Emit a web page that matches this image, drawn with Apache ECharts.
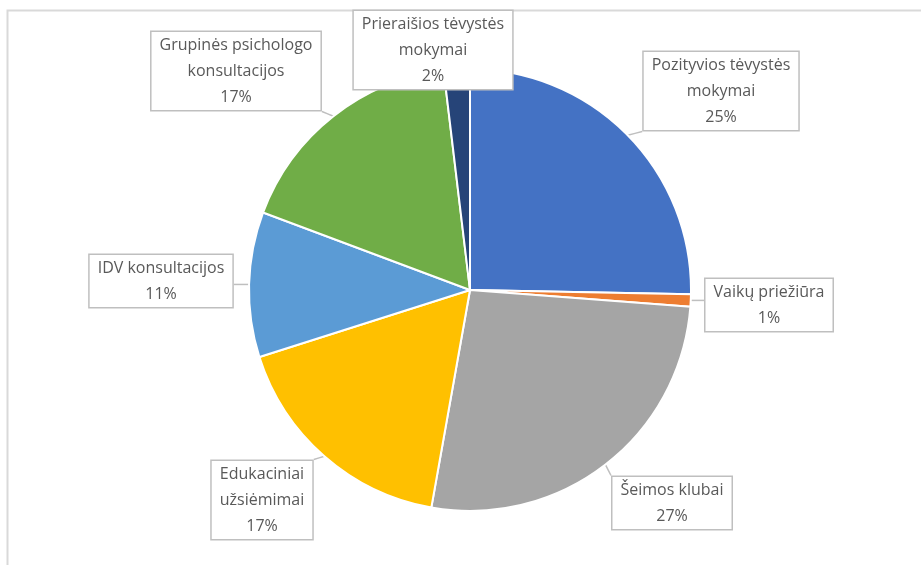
<!DOCTYPE html>
<html>
<head>
    <meta charset="UTF-8">
    <title>Paslaugos</title>
    <script src="https://cdn.jsdelivr.net/npm/echarts@6/dist/echarts.min.js"></script>
    <style>
        html, body { margin: 0; padding: 0; background: #fff; }
        #chart { width: 921px; height: 565px; }
    </style>
</head>
<body>
    <div id="chart"></div>
    <script>
        const names = [
            'Pozityvios tėvystės\nmokymai',
            'Vaikų priežiūra',
            'Šeimos klubai',
            'Edukaciniai\nužsiėmimai',
            'IDV konsultacijos',
            'Grupinės psichologo\nkonsultacijos',
            'Prieraišios tėvystės\nmokymai'
        ];
        const values = [25.3, 0.9, 26.6, 17.3, 10.6, 17.4, 1.9];
        const colors = ['#4472C4', '#ED7D31', '#A5A5A5', '#FFC000', '#5B9BD5', '#70AD47', '#264478'];

        // callout box centres (layout only)
        const labelPos = [
            [721, 91], [769, 305], [672, 503], [262, 500], [161, 281], [236, 71], [433, 50]
        ];

        const chart = echarts.init(document.getElementById('chart'));

        function nearestOnRect(pt, r) {
            const x = Math.max(r.x, Math.min(pt[0], r.x + r.width));
            const y = Math.max(r.y, Math.min(pt[1], r.y + r.height));
            return [x, y];
        }

        const option = {
            animation: false,
            graphic: [{
                type: 'rect',
                shape: { x: 7.5, y: 10.5, width: 960, height: 620 },
                style: { fill: 'none', stroke: '#d9d9d9', lineWidth: 2 },
                silent: true
            }],
            series: [{
                type: 'pie',
                center: [470, 290],
                radius: 221,
                startAngle: 90,
                clockwise: true,
                data: names.map((n, i) => ({ name: n, value: values[i], itemStyle: { color: colors[i] } })),
                itemStyle: { borderColor: '#fff', borderWidth: 2 },
                label: {
                    show: true,
                    formatter: p => p.name + '\n' + Math.round(p.percent) + '%',
                    fontFamily: 'Open Sans',
                    fontSize: 16,
                    lineHeight: 26,
                    color: '#595959',
                    align: 'center',
                    backgroundColor: '#fff',
                    borderColor: '#bfbfbf',
                    borderWidth: 1.5,
                    padding: [0, 8]
                },
                labelLine: {
                    show: true,
                    lineStyle: { color: '#bfbfbf', width: 1.5 }
                },
                labelLayout: function (params) {
                    const p = labelPos[params.dataIndex];
                    const w = params.labelRect.width, h = params.labelRect.height;
                    const rect = { x: p[0] - w / 2, y: p[1] - h / 2, width: w, height: h };
                    const start = params.labelLinePoints ? params.labelLinePoints[0] : [p[0], p[1]];
                    const end = nearestOnRect(start, rect);
                    const mid = [(start[0] + end[0]) / 2, (start[1] + end[1]) / 2];
                    return {
                        x: p[0], y: p[1], align: 'center', verticalAlign: 'middle',
                        labelLinePoints: [start, mid, end]
                    };
                },
                emphasis: { disabled: true }
            }]
        };

        chart.setOption(option);
    </script>
</body>
</html>
